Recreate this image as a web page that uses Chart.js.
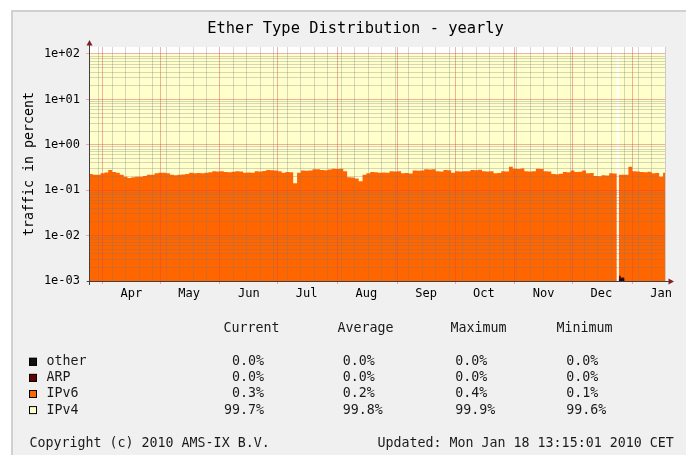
<!DOCTYPE html>
<html>
<head>
<meta charset="utf-8">
<title>Ether Type Distribution - yearly</title>
<script src="https://cdn.jsdelivr.net/npm/chart.js@4.4.1/dist/chart.umd.min.js"></script>
<style>
  html, body { margin: 0; padding: 0; background: #fff; }
  canvas { display: block; }
</style>
</head>
<body>
<canvas id="etherChart" width="686" height="455"></canvas>
<script>
// days counted from 25 Mar 2009 (day 0) up to 18 Jan 2010 (day 299)
const days = [
  0, 2, 4, 6, 8, 10, 12, 14, 16, 18,
  20, 22, 24, 26, 28, 30, 32, 34, 36, 38,
  40, 42, 44, 46, 48, 50, 52, 54, 56, 58,
  60, 62, 64, 66, 68, 70, 72, 74, 76, 78,
  80, 82, 84, 86, 88, 90, 92, 94, 96, 98,
  100, 102, 104, 106, 108, 110, 112, 114, 116, 118,
  120, 122, 124, 126, 128, 130, 132, 134, 136, 138,
  140, 142, 144, 146, 148, 150, 152, 154, 156, 158,
  160, 162, 164, 166, 168, 170, 172, 174, 176, 178,
  180, 182, 184, 186, 188, 190, 192, 194, 196, 198,
  200, 202, 204, 206, 208, 210, 212, 214, 216, 218,
  220, 222, 224, 226, 228, 230, 232, 234, 236, 238,
  240, 242, 244, 246, 248, 250, 252, 254, 256, 258,
  260, 262, 264, 266, 268, 270, 272,
  274, 274.5, 275,
  276, 278, 280, 282, 284, 286, 288, 290, 292, 294, 296, 298, 300
];

// IPv6 share of traffic in percent (null = no data)
const ipv6Share = [
  0.228, 0.22, 0.218, 0.235, 0.245, 0.279, 0.252, 0.243, 0.22, 0.199,
  0.186, 0.193, 0.199, 0.197, 0.206, 0.22, 0.218, 0.235, 0.243, 0.241,
  0.235, 0.22, 0.213, 0.22, 0.222, 0.228, 0.243, 0.235, 0.238, 0.235,
  0.243, 0.247, 0.261, 0.258, 0.263, 0.252, 0.25, 0.254, 0.261, 0.259,
  0.243, 0.245, 0.241, 0.261, 0.258, 0.265, 0.279, 0.276, 0.27, 0.261,
  0.243, 0.252, 0.25, 0.142, 0.243, 0.27, 0.268, 0.272, 0.288, 0.29,
  0.279, 0.276, 0.285, 0.297, 0.294, 0.297, 0.261, 0.193, 0.19, 0.18,
  0.158, 0.22, 0.235, 0.252, 0.249, 0.243, 0.246, 0.241, 0.261, 0.258,
  0.261, 0.235, 0.238, 0.233, 0.27, 0.267, 0.272, 0.288, 0.285, 0.29,
  0.261, 0.258, 0.279, 0.276, 0.243, 0.261, 0.258, 0.263, 0.26, 0.279,
  0.276, 0.281, 0.261, 0.258, 0.263, 0.235, 0.238, 0.261, 0.258, 0.33,
  0.297, 0.294, 0.299, 0.261, 0.258, 0.263, 0.297, 0.294, 0.261, 0.258,
  0.228, 0.225, 0.23, 0.252, 0.249, 0.27, 0.252, 0.255, 0.27, 0.235,
  0.238, 0.206, 0.204, 0.213, 0.21, 0.235, 0.233,
  0.233, null, 0.22,
  0.22, 0.218, 0.33, 0.261, 0.258, 0.252, 0.25, 0.254, 0.235, 0.238, 0.199, 0.243, 0.243
];

// the only days where ARP / other rise above the bottom of the scale
const bumpDays = [275, 276, 278, 280];
const otherShare = [0.0011, 0.0011, 0.00102, 0];
const arpShare = [0.0002, 0.0001, 0.00003, 0];

const monthStarts = [7, 37, 68, 98, 129, 160, 190, 221, 251, 282];
const monthNames = ['Apr', 'May', 'Jun', 'Jul', 'Aug', 'Sep', 'Oct', 'Nov', 'Dec', 'Jan'];
const firstMonday = 5;
const lastDay = 299;

const decades = [0.001, 0.01, 0.1, 1, 10, 100];
const decadeLabels = ['1e-03', '1e-02', '1e-01', '1e+00', '1e+01', '1e+02'];

const seriesNames = ['other', 'ARP', 'IPv6', 'IPv4'];
const seriesColors = ['#111111', '#660000', '#ff6600', '#ffffcc'];
const statNames = ['Current', 'Average', 'Maximum', 'Minimum'];
const statCurrent = [0.0, 0.0, 0.3, 99.7];
const statAverage = [0.0, 0.0, 0.2, 99.8];
const statMaximum = [0.0, 0.0, 0.4, 99.9];
const statMinimum = [0.0, 0.0, 0.1, 99.6];

const copyrightText = 'Copyright (c) 2010 AMS-IX B.V.';
const updatedText = 'Updated: Mon Jan 18 13:15:01 2010 CET';

// IPv4 is whatever the other types leave of 100 %
const ipv4Share = ipv6Share.map((v) => (v === null ? null : 100 - v));

const MONO = '"DejaVu Sans Mono", monospace';
const GRID_MINOR = 'rgba(120,120,120,0.3)';
const GRID_MAJOR = 'rgba(225,70,70,0.42)';

function zip(xs, ys) {
  return xs.map((x, i) => ({ x: x, y: ys[i] }));
}

// weekly lines on Mondays, red lines on the 1st, labels mid-month
const xTicks = [];
for (let d = firstMonday; d <= lastDay; d += 7) {
  if (!monthStarts.includes(d)) xTicks.push({ value: d, kind: 'week' });
}
monthStarts.forEach((d, i) => {
  xTicks.push({ value: d, kind: 'month' });
  xTicks.push({ value: d + 15, kind: 'label', text: monthNames[i] });
});
xTicks.sort((a, b) => a.value - b.value);

const yTicks = [];
decades.forEach((d, i) => {
  yTicks.push({ value: d, major: true, text: decadeLabels[i] });
  if (i < decades.length - 1) {
    for (let m = 2; m <= 9; m++) yTicks.push({ value: d * m, major: false });
  }
});

const rrdFrame = {
  id: 'rrdFrame',
  beforeDraw(chart) {
    const { ctx, chartArea: a } = chart;
    ctx.save();
    ctx.fillStyle = '#ffffff';
    ctx.fillRect(0, 0, chart.width, chart.height);
    ctx.fillStyle = '#f0f0f0';
    ctx.fillRect(11, 10, chart.width - 11, chart.height - 10);
    ctx.fillStyle = '#d0d0d0';
    ctx.fillRect(11, 10, chart.width - 11, 2);
    ctx.fillRect(11, 10, 2, chart.height - 10);
    ctx.fillStyle = '#ffffff';
    ctx.fillRect(a.left, a.top, a.right - a.left, a.bottom - a.top);
    ctx.restore();
  },
  afterDraw(chart) {
    const { ctx, chartArea: a } = chart;
    ctx.save();

    // axis stubs and arrows
    ctx.strokeStyle = '#404040';
    ctx.lineWidth = 1;
    ctx.beginPath();
    ctx.moveTo(a.left + 0.5, a.bottom + 4);
    ctx.lineTo(a.left + 0.5, a.top - 2);
    ctx.moveTo(a.left - 2, a.bottom + 0.5);
    ctx.lineTo(a.right + 4, a.bottom + 0.5);
    ctx.stroke();
    ctx.fillStyle = '#802020';
    ctx.beginPath();
    ctx.moveTo(a.left + 0.5, a.top - 7);
    ctx.lineTo(a.left - 2.5, a.top - 1.5);
    ctx.lineTo(a.left + 3.5, a.top - 1.5);
    ctx.closePath();
    ctx.fill();
    ctx.beginPath();
    ctx.moveTo(a.right + 9, a.bottom + 0.5);
    ctx.lineTo(a.right + 3.5, a.bottom - 2.5);
    ctx.lineTo(a.right + 3.5, a.bottom + 3.5);
    ctx.closePath();
    ctx.fill();

    // title
    ctx.fillStyle = '#000000';
    ctx.font = '15.4px ' + MONO;
    ctx.textAlign = 'center';
    ctx.textBaseline = 'middle';
    ctx.fillText('Ether Type Distribution - yearly', 355.5, 29);

    // legend table
    ctx.font = '13.3px ' + MONO;
    ctx.fillStyle = '#1a1a1a';
    ctx.textAlign = 'left';
    const headX = [223.5, 337.5, 450.5, 556.5];
    statNames.forEach((s, i) => ctx.fillText(s, headX[i], 329));

    const fmt = (v) => v.toFixed(1) + '%';
    seriesNames.forEach((name, i) => {
      const y = 361.8 + i * 16.1;
      ctx.fillStyle = seriesColors[i];
      ctx.fillRect(29, y - 4, 8, 8);
      ctx.strokeStyle = '#000000';
      ctx.strokeRect(29.5, y - 3.5, 7, 7);
      ctx.fillStyle = '#1a1a1a';
      ctx.textAlign = 'left';
      ctx.fillText(name, 46.5, y);
      ctx.textAlign = 'right';
      ctx.fillText(fmt(statCurrent[i]), 264, y);
      ctx.textAlign = 'left';
      ctx.fillText(fmt(statAverage[i]), 342.8, y);
      ctx.fillText(fmt(statMaximum[i]), 455.2, y);
      ctx.fillText(fmt(statMinimum[i]), 566.2, y);
    });

    ctx.fillText(copyrightText, 29.5, 443.3);
    ctx.fillText(updatedText, 377.5, 443.3);
    ctx.restore();
  }
};

const areaStyle = {
  borderWidth: 0,
  borderColor: 'transparent',
  pointRadius: 0,
  pointHoverRadius: 0,
  stepped: true,
  tension: 0,
};

const chart = new Chart(document.getElementById('etherChart').getContext('2d'), {
  type: 'line',
  data: {
    datasets: [
      { ...areaStyle, label: 'other', data: zip(bumpDays, otherShare), backgroundColor: seriesColors[0], fill: 'start', stack: 'minor' },
      { ...areaStyle, label: 'ARP', data: zip(bumpDays, arpShare), backgroundColor: seriesColors[1], fill: 'start', stack: 'minor' },
      { ...areaStyle, label: 'IPv6', data: zip(days, ipv6Share), backgroundColor: seriesColors[2], fill: 'start', stack: 'main' },
      { ...areaStyle, label: 'IPv4', data: zip(days, ipv4Share), backgroundColor: seriesColors[3], fill: '-1', stack: 'main' },
    ],
  },
  options: {
    responsive: false,
    animation: false,
    devicePixelRatio: 1,
    layout: { padding: { left: 0, top: 47, right: 21, bottom: 144 } },
    plugins: {
      legend: { display: false },
      tooltip: { enabled: false },
      title: { display: false },
    },
    scales: {
      x: {
        type: 'linear',
        min: 0,
        max: lastDay,
        bounds: 'data',
        afterBuildTicks: (scale) => { scale.ticks = xTicks.map((t) => ({ ...t })); },
        afterFit: (scale) => { scale.height = 30; },
        ticks: {
          autoSkip: false,
          maxTicksLimit: 1000,
          maxRotation: 0,
          padding: 3,
          color: '#000000',
          font: { family: MONO, size: 12 },
          callback: (value, index, ticks) => ticks[index].text || '',
        },
        grid: {
          z: 1,
          tickLength: 3,
          color: (ctx) => (ctx.tick && ctx.tick.kind === 'month' ? GRID_MAJOR : ctx.tick && ctx.tick.kind === 'week' ? GRID_MINOR : 'transparent'),
          tickColor: (ctx) => (ctx.tick && ctx.tick.kind === 'month' ? GRID_MAJOR : 'transparent'),
        },
        border: { z: 1, color: '#404040' },
      },
      y: {
        type: 'logarithmic',
        stacked: true,
        min: 0.001,
        max: 142.6,
        afterBuildTicks: (scale) => { scale.ticks = yTicks.map((t) => ({ ...t })); },
        afterFit: (scale) => { scale.width = 89; },
        ticks: {
          autoSkip: false,
          maxTicksLimit: 1000,
          padding: 6,
          color: '#000000',
          font: { family: MONO, size: 12 },
          callback: (value, index, ticks) => ticks[index].text || '',
        },
        grid: {
          z: 1,
          tickLength: 3,
          color: (ctx) => (ctx.tick && ctx.tick.major ? GRID_MAJOR : GRID_MINOR),
          tickColor: (ctx) => (ctx.tick && ctx.tick.major ? GRID_MAJOR : 'transparent'),
        },
        border: { z: 1, color: '#404040' },
        title: {
          display: true,
          text: 'traffic in percent',
          color: '#000000',
          font: { family: MONO, size: 13.3 },
          padding: { top: 22, bottom: 0 },
        },
      },
    },
  },
  plugins: [rrdFrame],
});
</script>
</body>
</html>
